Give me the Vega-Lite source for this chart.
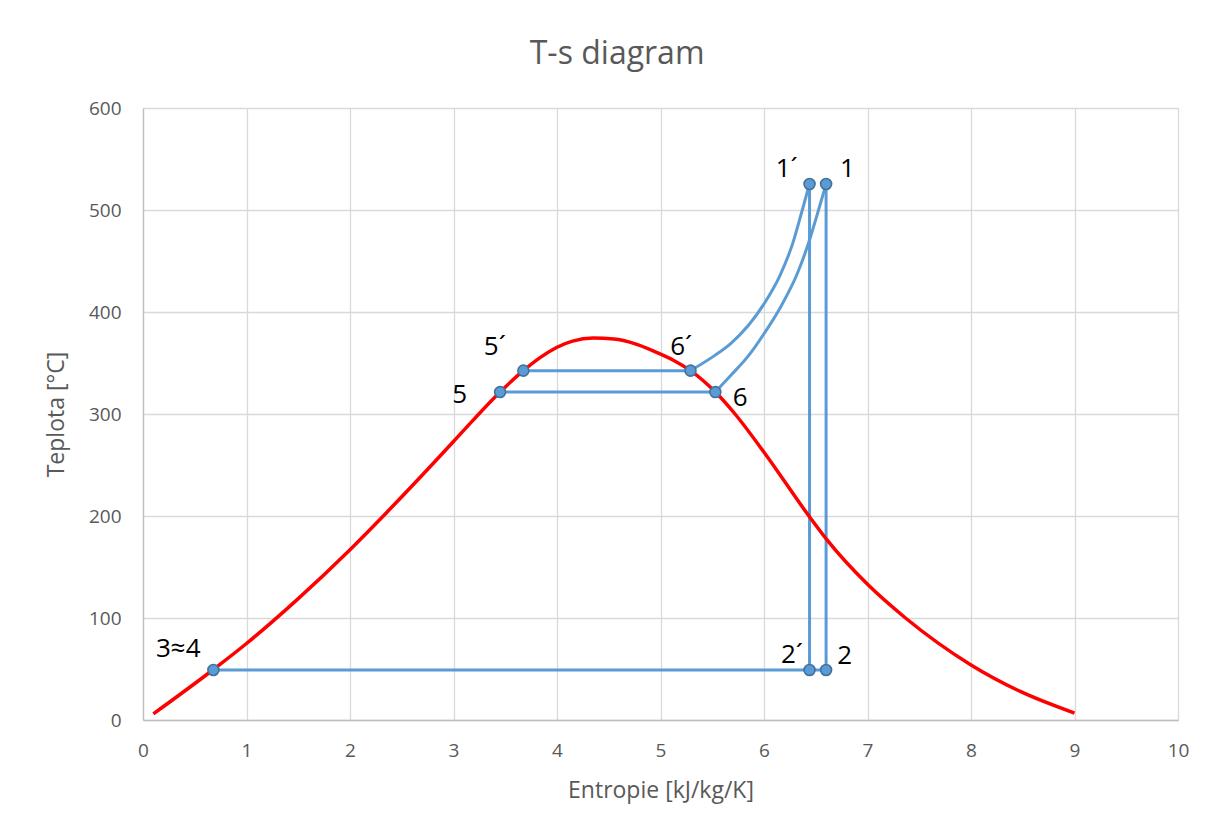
{
  "$schema": "https://vega.github.io/schema/vega-lite/v6.json",
  "width": 1035,
  "height": 612,
  "autosize": "none",
  "padding": {"left": 143, "top": 108, "right": 38, "bottom": 111},
  "background": "white",
  "title": {"text": "T-s diagram", "fontSize": 32, "font": "Open Sans", "fontWeight": "normal", "color": "#595959", "anchor": "middle", "frame": "bounds", "offset": 28},
  "config": {
    "view": {"stroke": null},
    "axis": {"labelFont": "Open Sans", "titleFont": "Open Sans", "labelColor": "#595959", "titleColor": "#595959", "labelFontSize": 19, "titleFontSize": 23, "titleFontWeight": "normal", "gridColor": "#D9D9D9", "gridWidth": 1.3, "ticks": false, "domainColor": "#BFBFBF", "domainWidth": 1.3, "labelFlush": false}
  },
  "datasets": {
    "sat": [
      {"s": 0.1, "T": 6}, {"s": 0.68, "T": 49.5}, {"s": 1.0, "T": 75}, {"s": 1.5, "T": 119},
      {"s": 2.0, "T": 167}, {"s": 2.35, "T": 203}, {"s": 3.0, "T": 273}, {"s": 3.19, "T": 294},
      {"s": 3.45, "T": 321.5}, {"s": 3.675, "T": 342.5}, {"s": 3.84, "T": 355.5}, {"s": 4.0, "T": 365.5},
      {"s": 4.15, "T": 371.5}, {"s": 4.35, "T": 374.5}, {"s": 4.55, "T": 373.5}, {"s": 4.75, "T": 369},
      {"s": 4.95, "T": 361}, {"s": 5.12, "T": 353}, {"s": 5.29, "T": 342.5}, {"s": 5.53, "T": 321.5}, {"s": 5.72, "T": 300},
      {"s": 6.0, "T": 262.5}, {"s": 6.434, "T": 200}, {"s": 6.605, "T": 177}, {"s": 7.0, "T": 133},
      {"s": 7.367, "T": 100}, {"s": 8.0, "T": 54}, {"s": 8.476, "T": 28}, {"s": 9.0, "T": 6.8}
    ],
    "straight": [
      {"seg": "34-2", "o": 1, "s": 0.68, "T": 49}, {"seg": "34-2", "o": 2, "s": 6.6, "T": 49},
      {"seg": "5-6", "o": 1, "s": 3.45, "T": 321.5}, {"seg": "5-6", "o": 2, "s": 5.53, "T": 321.5},
      {"seg": "5p-6p", "o": 1, "s": 3.675, "T": 342.5}, {"seg": "5p-6p", "o": 2, "s": 5.29, "T": 342.5},
      {"seg": "1-2", "o": 1, "s": 6.6, "T": 525.5}, {"seg": "1-2", "o": 2, "s": 6.6, "T": 49},
      {"seg": "1p-2p", "o": 1, "s": 6.44, "T": 525.5}, {"seg": "1p-2p", "o": 2, "s": 6.44, "T": 49}
    ],
    "curves": [
      {"seg": "6-1", "s": 5.53, "T": 321.5}, {"seg": "6-1", "s": 5.678, "T": 337.7}, {"seg": "6-1", "s": 5.839, "T": 355.7},
      {"seg": "6-1", "s": 6.0, "T": 378.7}, {"seg": "6-1", "s": 6.161, "T": 405}, {"seg": "6-1", "s": 6.322, "T": 437.7},
      {"seg": "6-1", "s": 6.44, "T": 470.6}, {"seg": "6-1", "s": 6.527, "T": 500}, {"seg": "6-1", "s": 6.6, "T": 525.5},
      {"seg": "6p-1p", "s": 5.29, "T": 342.5}, {"seg": "6p-1p", "s": 5.518, "T": 357}, {"seg": "6p-1p", "s": 5.678, "T": 369},
      {"seg": "6p-1p", "s": 6.0, "T": 408}, {"seg": "6p-1p", "s": 6.155, "T": 436}, {"seg": "6p-1p", "s": 6.28, "T": 468},
      {"seg": "6p-1p", "s": 6.37, "T": 500}, {"seg": "6p-1p", "s": 6.44, "T": 525.5}
    ],
    "points": [
      {"s": 0.68, "T": 49}, {"s": 3.45, "T": 321.5}, {"s": 3.675, "T": 342.5}, {"s": 5.53, "T": 321.5},
      {"s": 5.29, "T": 342.5}, {"s": 6.6, "T": 525.5}, {"s": 6.44, "T": 525.5}, {"s": 6.6, "T": 49}, {"s": 6.44, "T": 49}
    ],
    "labels": [
      {"name": "3≈4", "s": 0.34, "T": 69.5}, {"name": "5", "s": 3.06, "T": 318.5}, {"name": "5´", "s": 3.4, "T": 366},
      {"name": "6´", "s": 5.2, "T": 366}, {"name": "6", "s": 5.77, "T": 315.5}, {"name": "1´", "s": 6.22, "T": 540},
      {"name": "1", "s": 6.805, "T": 540}, {"name": "2´", "s": 6.27, "T": 63.7}, {"name": "2", "s": 6.78, "T": 62.7}
    ]
  },
  "encoding": {
    "x": {"field": "s", "type": "quantitative", "scale": {"domain": [0, 10], "nice": false}, "axis": {"title": "Entropie [kJ/kg/K]", "values": [0, 1, 2, 3, 4, 5, 6, 7, 8, 9, 10], "labelPadding": 21, "titlePadding": 19, "grid": true}},
    "y": {"field": "T", "type": "quantitative", "scale": {"domain": [0, 600], "nice": false}, "axis": {"title": "Teplota [°C]", "values": [0, 100, 200, 300, 400, 500, 600], "labelPadding": 22, "titlePadding": 20, "grid": true}}
  },
  "layer": [
    {
      "data": {"name": "straight"},
      "mark": {"type": "line", "color": "#5B9BD5", "strokeWidth": 3},
      "encoding": {
        "detail": {"field": "seg"},
        "order": {"field": "o"}
      }
    },
    {
      "data": {"name": "curves"},
      "mark": {"type": "line", "color": "#5B9BD5", "strokeWidth": 3, "interpolate": "monotone"},
      "encoding": {
        "detail": {"field": "seg"}
      }
    },
    {
      "data": {"name": "sat"},
      "mark": {"type": "line", "color": "#FF0000", "strokeWidth": 3.5, "interpolate": "monotone"},
      "encoding": {}
    },
    {
      "data": {"name": "points"},
      "mark": {"type": "point", "filled": true, "fill": "#5B9BD5", "stroke": "#41719C", "strokeWidth": 1.6, "size": 120, "opacity": 1, "shape": "circle"},
      "encoding": {}
    },
    {
      "data": {"name": "labels"},
      "mark": {"type": "text", "font": "Open Sans", "fontSize": 26, "color": "#000000", "align": "center", "baseline": "middle"},
      "encoding": {
        "text": {"field": "name"}
      }
    }
  ]
}
